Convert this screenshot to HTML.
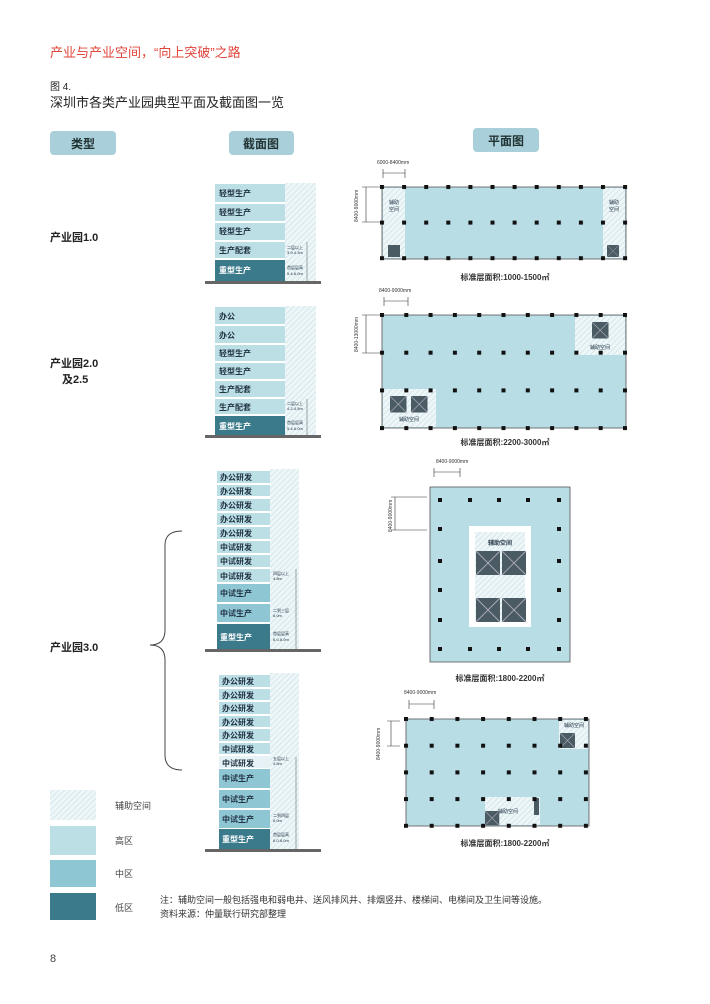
<!DOCTYPE html>
<html><head><meta charset="utf-8"><style>
body{margin:0;background:#fff}
svg{display:block}
text{font-family:"Liberation Sans","Noto Sans CJK SC",sans-serif}
</style></head><body>
<svg width="710" height="1004" viewBox="0 0 710 1004" xmlns="http://www.w3.org/2000/svg">
<defs>
<pattern id="h" width="4" height="4" patternUnits="userSpaceOnUse" patternTransform="rotate(45)">
<rect width="4" height="4" fill="#eef6f8"/><line x1="0" y1="0" x2="0" y2="4" stroke="#c4dfe6" stroke-width="1.2"/></pattern>
<pattern id="c1" x="380" y="185" width="22.1" height="35.6" patternUnits="userSpaceOnUse"><rect width="4" height="4" fill="#111"/></pattern>
<pattern id="c2" x="380" y="313" width="24.3" height="37.7" patternUnits="userSpaceOnUse"><rect width="4" height="4" fill="#111"/></pattern>
<pattern id="c4" x="404" y="717" width="25.7" height="26.7" patternUnits="userSpaceOnUse"><rect width="4" height="4" fill="#111"/></pattern>
<g id="lift"><rect x="0" y="0" width="15" height="15" fill="#4a5b63"/><path d="M0 0L15 15M15 0L0 15" stroke="#aab" stroke-width="0.6"/></g>
</defs>
<style>
.fl{font-size:8px;font-weight:bold;fill:#234}
.fd{font-size:8px;font-weight:bold;fill:#fff}
.sm{font-size:4px;fill:#234}
.pl{font-size:8px;font-weight:bold;fill:#333}
.dim{font-size:5px;fill:#333}
</style>
<text x="50" y="57" font-size="13" fill="#e0453b">产业与产业空间，“向上突破”之路</text>
<text x="50" y="90" font-size="10" fill="#222">图 4.</text>
<text x="50" y="107" font-size="13" fill="#222">深圳市各类产业园典型平面及截面图一览</text>
<rect x="50" y="131" width="66" height="24" rx="4" fill="#a9d0da"/><text x="83" y="148" font-size="12" font-weight="bold" text-anchor="middle" fill="#233">类型</text>
<rect x="229" y="131" width="65" height="24" rx="4" fill="#a9d0da"/><text x="261" y="148" font-size="12" font-weight="bold" text-anchor="middle" fill="#233">截面图</text>
<rect x="473" y="128" width="66" height="24" rx="4" fill="#a9d0da"/><text x="506" y="145" font-size="12" font-weight="bold" text-anchor="middle" fill="#233">平面图</text>

<text x="50" y="241" font-size="11" font-weight="bold" fill="#222">产业园1.0</text>
<text x="50" y="367" font-size="11" font-weight="bold" fill="#222">产业园2.0</text>
<text x="62" y="383" font-size="11" font-weight="bold" fill="#222">及2.5</text>
<text x="50" y="651" font-size="11" font-weight="bold" fill="#222">产业园3.0</text>

<!-- section 1 -->
<rect x="285" y="183" width="31" height="98" fill="url(#h)"/>
<g>
<rect x="215" y="184" width="70" height="18" fill="#bcdfe6"/><text class="fl" x="219" y="196">轻型生产</text>
<rect x="215" y="204" width="70" height="17" fill="#bcdfe6"/><text class="fl" x="219" y="215">轻型生产</text>
<rect x="215" y="223" width="70" height="17" fill="#bcdfe6"/><text class="fl" x="219" y="234">轻型生产</text>
<rect x="215" y="242" width="70" height="16" fill="#bcdfe6"/><text class="fl" x="219" y="253">生产配套</text>
<rect x="215" y="260" width="70" height="21" fill="#3b7a8b"/><text class="fd" x="219" y="273">重型生产</text>
</g>
<text class="sm" x="287" y="249">二层以上</text><text class="sm" x="287" y="254">3.9-4.3m</text>
<text class="sm" x="287" y="269">首层层高</text><text class="sm" x="287" y="275">5.4-6.0m</text>
<line x1="307" y1="242" x2="307" y2="281" stroke="#555" stroke-width="0.5"/>
<rect x="205" y="281" width="116" height="3" fill="#666"/>

<!-- section 2 -->
<rect x="285" y="306" width="31" height="129" fill="url(#h)"/>
<rect x="215" y="307" width="70" height="17" fill="#bcdfe6"/><text class="fl" x="219" y="319">办公</text>
<rect x="215" y="326" width="70" height="17" fill="#bcdfe6"/><text class="fl" x="219" y="338">办公</text>
<rect x="215" y="345" width="70" height="16" fill="#bcdfe6"/><text class="fl" x="219" y="356">轻型生产</text>
<rect x="215" y="363" width="70" height="16" fill="#bcdfe6"/><text class="fl" x="219" y="374">轻型生产</text>
<rect x="215" y="381" width="70" height="16" fill="#bcdfe6"/><text class="fl" x="219" y="392">生产配套</text>
<rect x="215" y="399" width="70" height="15" fill="#bcdfe6"/><text class="fl" x="219" y="410">生产配套</text>
<rect x="215" y="416" width="70" height="19" fill="#3b7a8b"/><text class="fd" x="219" y="429">重型生产</text>
<text class="sm" x="287" y="405">二层以上</text><text class="sm" x="287" y="410">4.2-4.5m</text>
<text class="sm" x="287" y="424">首层层高</text><text class="sm" x="287" y="430">5.4-6.0m</text>
<line x1="307" y1="399" x2="307" y2="435" stroke="#555" stroke-width="0.5"/>
<rect x="205" y="435" width="116" height="3" fill="#666"/>

<!-- section 3a -->
<rect x="270" y="469" width="29" height="180" fill="url(#h)"/>
<g>
<rect x="217" y="471" width="53" height="12" fill="#bcdfe6"/><text class="fl" x="220" y="480">办公研发</text>
<rect x="217" y="485" width="53" height="11" fill="#bcdfe6"/><text class="fl" x="220" y="494">办公研发</text>
<rect x="217" y="499" width="53" height="12" fill="#bcdfe6"/><text class="fl" x="220" y="508">办公研发</text>
<rect x="217" y="513" width="53" height="12" fill="#bcdfe6"/><text class="fl" x="220" y="522">办公研发</text>
<rect x="217" y="527" width="53" height="12" fill="#bcdfe6"/><text class="fl" x="220" y="536">办公研发</text>
<rect x="217" y="541" width="53" height="12" fill="#bcdfe6"/><text class="fl" x="220" y="550">中试研发</text>
<rect x="217" y="555" width="53" height="12" fill="#bcdfe6"/><text class="fl" x="220" y="564">中试研发</text>
<rect x="217" y="569" width="53" height="13" fill="#bcdfe6"/><text class="fl" x="220" y="579">中试研发</text>
<rect x="217" y="584" width="53" height="18" fill="#8fc6d3"/><text class="fl" x="220" y="596">中试生产</text>
<rect x="217" y="604" width="53" height="18" fill="#8fc6d3"/><text class="fl" x="220" y="616">中试生产</text>
<rect x="217" y="624" width="53" height="25" fill="#3b7a8b"/><text class="fd" x="220" y="640">重型生产</text>
</g>
<text class="sm" x="273" y="575">四层以上</text><text class="sm" x="273" y="580">4.8m</text>
<text class="sm" x="273" y="612">二到三层</text><text class="sm" x="273" y="617">6.0m</text>
<text class="sm" x="273" y="635">首层层高</text><text class="sm" x="273" y="641">6.0-8.0m</text>
<line x1="296" y1="569" x2="296" y2="649" stroke="#555" stroke-width="0.5"/>
<rect x="205" y="649" width="116" height="3" fill="#666"/>

<!-- section 3b -->
<rect x="270" y="673" width="29" height="176" fill="url(#h)"/>
<g>
<rect x="219" y="675" width="51" height="12" fill="#bcdfe6"/><text class="fl" x="222" y="684">办公研发</text>
<rect x="219" y="689" width="51" height="11" fill="#bcdfe6"/><text class="fl" x="222" y="698">办公研发</text>
<rect x="219" y="702" width="51" height="12" fill="#bcdfe6"/><text class="fl" x="222" y="711">办公研发</text>
<rect x="219" y="716" width="51" height="11" fill="#bcdfe6"/><text class="fl" x="222" y="725">办公研发</text>
<rect x="219" y="729" width="51" height="12" fill="#bcdfe6"/><text class="fl" x="222" y="738">办公研发</text>
<rect x="219" y="743" width="51" height="11" fill="#bcdfe6"/><text class="fl" x="222" y="752">中试研发</text>
<rect x="219" y="756" width="51" height="12" fill="#e6f2f5"/><text class="fl" x="222" y="766">中试研发</text>
<rect x="219" y="769" width="51" height="19" fill="#8fc6d3"/><text class="fl" x="222" y="781">中试生产</text>
<rect x="219" y="790" width="51" height="18" fill="#8fc6d3"/><text class="fl" x="222" y="802">中试生产</text>
<rect x="219" y="810" width="51" height="18" fill="#8fc6d3"/><text class="fl" x="222" y="822">中试生产</text>
<rect x="219" y="829" width="51" height="20" fill="#3b7a8b"/><text class="fd" x="222" y="842">重型生产</text>
</g>
<text class="sm" x="273" y="760">五层以上</text><text class="sm" x="273" y="765">4.5m</text>
<text class="sm" x="273" y="817">二到四层</text><text class="sm" x="273" y="822">6.0m</text>
<text class="sm" x="273" y="836">首层层高</text><text class="sm" x="273" y="842">6.0-8.0m</text>
<line x1="296" y1="757" x2="296" y2="849" stroke="#555" stroke-width="0.5"/>
<rect x="205" y="849" width="116" height="3" fill="#666"/>

<!-- brace -->
<path d="M182 531 Q165 531 165 545 L165 630 Q165 645 150 645 Q165 645 165 660 L165 755 Q165 770 182 770" fill="none" stroke="#444" stroke-width="1"/>

<!-- legend -->
<rect x="50" y="790" width="46" height="30" fill="url(#h)"/><text x="115" y="809" font-size="9" fill="#444">辅助空间</text>
<rect x="50" y="826" width="46" height="29" fill="#bcdfe6"/><text x="115" y="844" font-size="9" fill="#444">高区</text>
<rect x="50" y="860" width="46" height="27" fill="#8fc6d3"/><text x="115" y="877" font-size="9" fill="#444">中区</text>
<rect x="50" y="893" width="46" height="27" fill="#3b7a8b"/><text x="115" y="911" font-size="9" fill="#444">低区</text>
<text x="160" y="903" font-size="9" fill="#333">注：辅助空间一般包括强电和弱电井、送风排风井、排烟竖井、楼梯间、电梯间及卫生间等设施。</text>
<text x="160" y="917" font-size="9" fill="#333">资料来源：仲量联行研究部整理</text>
<text x="50" y="962" font-size="11" fill="#444">8</text>

<!-- plan 1 -->
<text class="dim" x="377" y="164">6000-8400mm</text>
<path d="M383 173H405M383 169V178M405 169V178" stroke="#333" stroke-width="0.6"/>
<path d="M366 187V222M362 187H380M362 222H380" stroke="#333" stroke-width="0.6"/>
<text class="dim" transform="translate(358 222) rotate(-90)">8400-9000mm</text>
<rect x="382" y="187" width="244" height="72" fill="#b8dde5" stroke="#555" stroke-width="0.8"/>
<rect x="383" y="188" width="22" height="70" fill="url(#h)"/>
<rect x="603" y="188" width="22" height="70" fill="url(#h)"/>
<text class="sm" x="394" y="204" text-anchor="middle" style="font-size:5px">辅助</text><text class="sm" x="394" y="211" text-anchor="middle" style="font-size:5px">空间</text>
<text class="sm" x="614" y="204" text-anchor="middle" style="font-size:5px">辅助</text><text class="sm" x="614" y="211" text-anchor="middle" style="font-size:5px">空间</text>
<rect x="388" y="245" width="12" height="12" fill="#4a5b63"/><use href="#lift" transform="translate(607 245) scale(0.8)"/>
<rect x="380" y="185" width="250" height="78" fill="url(#c1)"/>
<text class="pl" x="505" y="280" text-anchor="middle">标准层面积:1000-1500㎡</text>

<!-- plan 2 -->
<text class="dim" x="379" y="292">8400-9000mm</text>
<path d="M384 301H408M384 297V306M408 297V306" stroke="#333" stroke-width="0.6"/>
<path d="M366 315V353M362 315H380M362 353H380" stroke="#333" stroke-width="0.6"/>
<text class="dim" transform="translate(358 352) rotate(-90)">8400-13000mm</text>
<rect x="382" y="315" width="244" height="113" fill="#b8dde5" stroke="#555" stroke-width="0.8"/>
<rect x="575" y="316" width="50" height="39" fill="url(#h)"/>
<rect x="383" y="389" width="53" height="38" fill="url(#h)"/>
<use href="#lift" transform="translate(592 322) scale(1.1)"/>
<text class="sm" x="600" y="349" text-anchor="middle" style="font-size:5px">辅助空间</text>
<use href="#lift" transform="translate(390 396) scale(1.1)"/><use href="#lift" transform="translate(411 396) scale(1.1)"/>
<text class="sm" x="409" y="421" text-anchor="middle" style="font-size:5px">辅助空间</text>
<rect x="380" y="313" width="250" height="118" fill="url(#c2)"/>
<text class="pl" x="505" y="445" text-anchor="middle">标准层面积:2200-3000㎡</text>

<!-- plan 3 -->
<text class="dim" x="436" y="463">8400-9000mm</text>
<path d="M434 472H460M434 468V477M460 468V477" stroke="#333" stroke-width="0.6"/>
<path d="M395 497V530M391 497H427M391 530H427" stroke="#333" stroke-width="0.6"/>
<text class="dim" transform="translate(392 532) rotate(-90)">8400-9000mm</text>
<rect x="430" y="487" width="140" height="175" fill="#b8dde5" stroke="#555" stroke-width="0.8"/>
<rect x="469" y="526" width="62" height="101" fill="#fff"/>
<rect x="475" y="532" width="50" height="90" fill="url(#h)"/>
<text class="sm" x="500" y="545" text-anchor="middle" style="font-size:6px;font-weight:bold">辅助空间</text>
<use href="#lift" transform="translate(476 551) scale(1.6)"/><use href="#lift" transform="translate(502 551) scale(1.6)"/>
<use href="#lift" transform="translate(476 598) scale(1.6)"/><use href="#lift" transform="translate(502 598) scale(1.6)"/>
<g fill="#111">
<rect x="438" y="498" width="4" height="4"/><rect x="468" y="498" width="4" height="4"/><rect x="497" y="498" width="4" height="4"/><rect x="526" y="498" width="4" height="4"/><rect x="557" y="498" width="4" height="4"/>
<rect x="438" y="527" width="4" height="4"/><rect x="557" y="527" width="4" height="4"/>
<rect x="438" y="559" width="4" height="4"/><rect x="557" y="559" width="4" height="4"/>
<rect x="438" y="588" width="4" height="4"/><rect x="557" y="588" width="4" height="4"/>
<rect x="438" y="618" width="4" height="4"/><rect x="557" y="618" width="4" height="4"/>
<rect x="438" y="647" width="4" height="4"/><rect x="468" y="647" width="4" height="4"/><rect x="497" y="647" width="4" height="4"/><rect x="526" y="647" width="4" height="4"/><rect x="557" y="647" width="4" height="4"/>
</g>
<text class="pl" x="500" y="681" text-anchor="middle">标准层面积:1800-2200㎡</text>

<!-- plan 4 -->
<text class="dim" x="404" y="694">8400-9000mm</text>
<path d="M409 704H434M409 700V709M434 700V709" stroke="#333" stroke-width="0.6"/>
<path d="M391 721V746M387 721H400M387 746H400" stroke="#333" stroke-width="0.6"/>
<text class="dim" transform="translate(380 760) rotate(-90)">8400-9000mm</text>
<rect x="406" y="719" width="183" height="107" fill="#b8dde5" stroke="#555" stroke-width="0.8"/>
<rect x="559" y="720" width="29" height="29" fill="url(#h)"/>
<rect x="485" y="797" width="55" height="28" fill="url(#h)"/>
<text class="sm" x="574" y="727" text-anchor="middle" style="font-size:5px">辅助空间</text>
<use href="#lift" transform="translate(560 733) scale(1.0)"/>
<use href="#lift" transform="translate(485 811) scale(0.95)"/>
<rect x="534" y="798" width="5" height="17" fill="#4a5b63"/>
<text class="sm" x="508" y="813" text-anchor="middle" style="font-size:5px">辅助空间</text>
<rect x="404" y="717" width="190" height="113" fill="url(#c4)"/>
<text class="pl" x="505" y="846" text-anchor="middle">标准层面积:1800-2200㎡</text>
</svg>
</body></html>
